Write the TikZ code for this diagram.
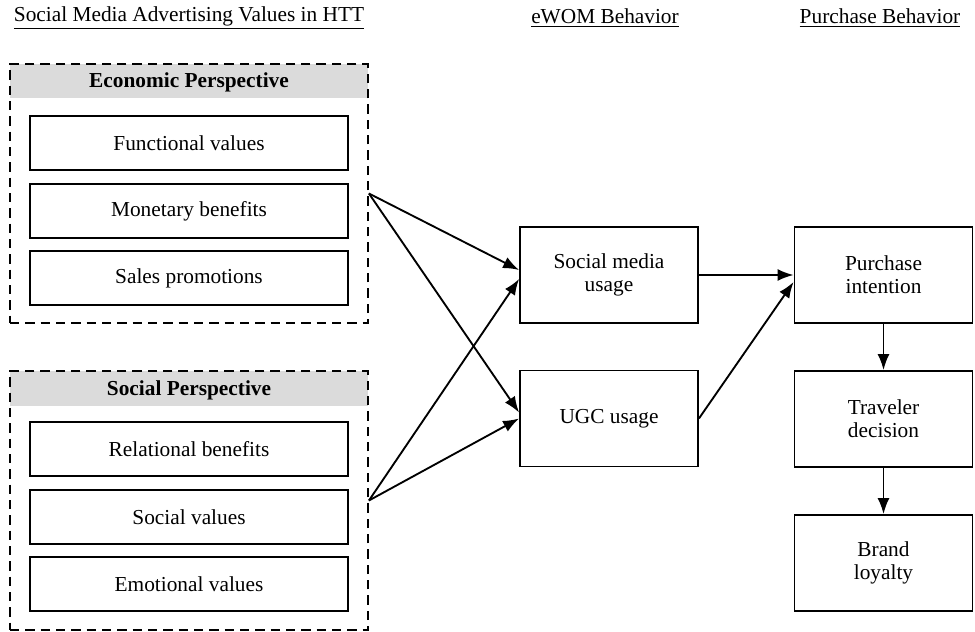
\documentclass[tikz,border=0pt]{standalone}
\usepackage{fontspec}
\setmainfont{Liberation Serif}
\usetikzlibrary{arrows.meta,calc}
\begin{document}
\begin{tikzpicture}[x=0.75pt,y=-0.75pt,
  every node/.style={font=\fontsize{16}{17.5}\selectfont, inner sep=0pt, align=center},
  inbox/.style={draw, line width=1.4pt, minimum width=238.5pt, minimum height=40.5pt},
  midbox/.style={draw, line width=1.4pt, minimum width=133.5pt, minimum height=72pt},
  dbox/.style={draw, line width=1.4pt, dash pattern=on 7pt off 4.5pt, minimum width=268.5pt, minimum height=194.25pt},
  hdr/.style={font=\fontsize{16}{17.5}\selectfont\bfseries},
  ttl/.style={font=\fontsize{16}{17.5}\selectfont},
  arr/.style={line width=1.4pt, -{Latex[length=12pt,width=9pt]}}]
\useasboundingbox (0,0) rectangle (975,632);
% titles
\node[ttl] (t1) at (189,18) {\underline{Social Media Advertising Values in HTT}};
\node[ttl] (t2) at (605,18) {\underline{eWOM Behavior}};
\node[ttl] (t3) at (880,18) {\underline{Purchase Behavior}};
% header fills
\fill[gray!28] (10,64) rectangle (368,98);
\fill[gray!28] (10,371) rectangle (368,406);
% economic
\node[dbox] (econ) at (189,193.5) {};
\node[hdr] (econh) at (189,82) {Economic Perspective};
\node[inbox] (f1) at (189,143) {Functional values};
\node[inbox] (f2) at (189,211) {Monetary benefits};
\node[inbox] (f3) at (189,278) {Sales promotions};
% social
\node[dbox] (soc) at (189,500.5) {};
\node[hdr] (soch) at (189,390) {Social Perspective};
\node[inbox] (s1) at (189,449) {Relational benefits};
\node[inbox] (s2) at (189,517) {Social values};
\node[inbox] (s3) at (189,584) {Emotional values};
% middle
\node[midbox] (smu) at (609,275) {Social media\\usage};
\node[midbox] (ugc) at (609,418.5) {UGC usage};
% right
\node[midbox] (pi) at (883.5,275) {Purchase\\intention};
\node[midbox] (td) at (883.5,419) {Traveler\\decision};
\node[midbox] (bl) at (883.5,563) {Brand\\loyalty};
% arrows
\draw[arr] (econ.east) -- ($(smu.west)+(0,-5)$);
\draw[arr] (econ.east) -- ($(ugc.west)+(0,-6)$);
\draw[arr] (soc.east) -- ($(smu.west)+(0,4)$);
\draw[arr] (soc.east) -- (ugc.west);
\draw[arr] (smu.east) -- (pi.west);
\draw[arr] (ugc.east) -- ($(pi.west)+(0,7)$);
\draw[arr] (pi.south) -- (td.north);
\draw[arr] (td.south) -- (bl.north);
\end{tikzpicture}
\end{document}
